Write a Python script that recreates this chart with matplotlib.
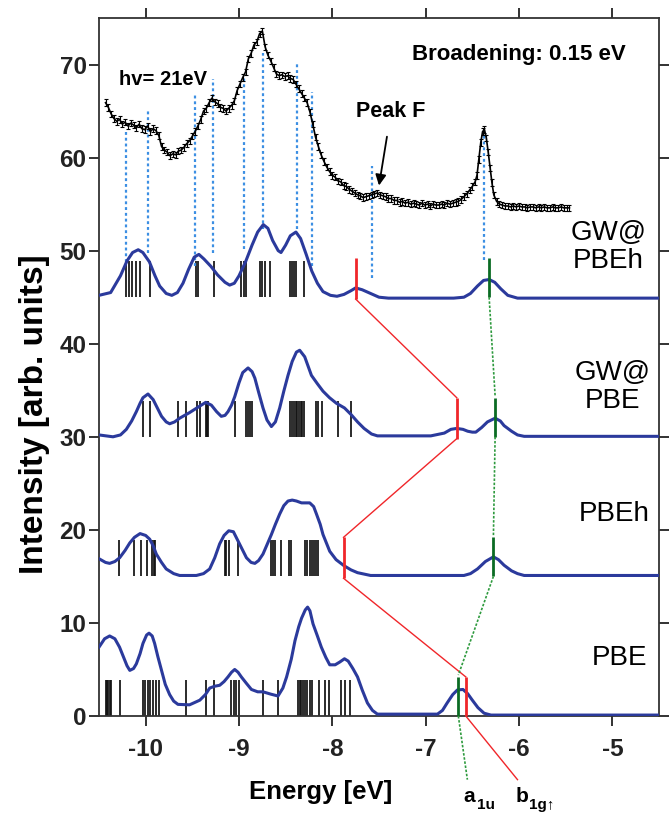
import matplotlib
matplotlib.use('Agg')
import matplotlib.pyplot as plt

plt.rcParams['font.family'] = ['Liberation Sans', 'DejaVu Sans']

# ---------------- experimental UPS spectrum (hv = 21 eV) ----------------
exp_x = [-10.43, -10.40, -10.37, -10.34, -10.31, -10.28, -10.25, -10.22, -10.19, -10.16,
         -10.13, -10.10, -10.07, -10.04, -10.01, -9.98, -9.95, -9.92, -9.89, -9.86,
         -9.83, -9.80, -9.77, -9.74, -9.71, -9.68, -9.65, -9.62, -9.59, -9.56,
         -9.53, -9.50, -9.47, -9.44, -9.41, -9.38, -9.35, -9.32, -9.29, -9.26,
         -9.23, -9.20, -9.17, -9.14, -9.11, -9.08, -9.05, -9.02, -8.99, -8.96,
         -8.93, -8.90, -8.87, -8.84, -8.81, -8.78, -8.75, -8.72, -8.69, -8.66,
         -8.63, -8.60, -8.57, -8.54, -8.51, -8.48, -8.45, -8.42, -8.39, -8.36,
         -8.33, -8.30, -8.27, -8.24, -8.21, -8.18, -8.15, -8.12, -8.09, -8.06,
         -8.03, -8.00, -7.97, -7.94, -7.91, -7.88, -7.85, -7.82, -7.79, -7.76,
         -7.73, -7.70, -7.67, -7.64, -7.61, -7.58, -7.55, -7.52, -7.49, -7.46,
         -7.43, -7.40, -7.37, -7.34, -7.31, -7.28, -7.25, -7.22, -7.19, -7.16,
         -7.13, -7.10, -7.07, -7.04, -7.01, -6.98, -6.95, -6.92, -6.89, -6.86,
         -6.83, -6.80, -6.77, -6.74, -6.71, -6.68, -6.65, -6.62, -6.59, -6.56,
         -6.53, -6.50, -6.47, -6.45, -6.43, -6.41, -6.39, -6.37, -6.35, -6.33,
         -6.31, -6.29, -6.27, -6.24, -6.21, -6.18, -6.15, -6.12, -6.09, -6.06,
         -6.03, -6.00, -5.97, -5.94, -5.91, -5.88, -5.85, -5.82, -5.79, -5.76,
         -5.73, -5.70, -5.67, -5.64, -5.61, -5.58, -5.55, -5.52, -5.49, -5.46]
exp_y = [65.9, 65.4, 64.7, 64.2, 63.9, 64.1, 63.6, 63.8, 63.4, 63.7,
         63.5, 63.2, 63.6, 63.1, 63.0, 63.4, 62.8, 63.1, 62.9, 62.4,
         61.2, 60.8, 60.6, 60.2, 60.4, 60.3, 60.7, 60.8, 61.1, 61.5,
         61.8, 62.3, 62.8, 63.4, 64.1, 65.0, 65.3, 65.9, 66.4, 66.0,
         65.8, 65.4, 65.3, 65.0, 65.3, 65.6, 66.1, 67.2, 67.9, 68.6,
         69.2, 70.6, 71.2, 72.1, 72.4, 73.3, 73.6, 71.9, 71.0, 70.4,
         69.7, 69.0, 68.8, 68.9, 68.7, 68.8, 68.5, 68.4, 67.9, 67.4,
         66.9, 66.4, 65.9, 64.9, 63.6, 62.2, 61.2, 60.3, 59.6, 59.0,
         58.5, 58.1, 57.9, 57.5, 57.4, 57.0, 56.9, 56.6, 56.4, 56.2,
         56.0, 55.9, 55.7, 55.8, 55.9, 56.0, 56.1, 56.2, 56.0, 55.9,
         55.8, 55.6, 55.6, 55.4, 55.4, 55.2, 55.3, 55.1, 55.2, 55.0,
         55.1, 55.0, 54.9, 55.1, 54.9, 55.0, 54.8, 55.0, 54.9, 54.9,
         55.0, 54.9, 55.1, 55.0, 55.1, 55.2, 55.3, 55.5, 55.8, 56.1,
         56.5, 56.9, 57.4, 58.1, 59.8, 61.6, 62.8, 63.0, 62.1, 60.6,
         58.9, 57.3, 56.0, 55.3, 55.0, 54.9, 54.8, 54.8, 54.7, 54.8,
         54.7, 54.8, 54.7, 54.7, 54.6, 54.7, 54.7, 54.6, 54.7, 54.6,
         54.7, 54.6, 54.6, 54.7, 54.6, 54.6, 54.7, 54.6, 54.6, 54.6]

# experimental peak markers (blue dotted)
peak_x = [-10.21, -9.98, -9.47, -9.28, -8.95, -8.74, -8.38, -8.22, -7.57, -6.37]
peak_top = [62.9, 65.1, 66.7, 68.4, 68.5, 71.2, 70.3, 67.0, 59.1, 62.8]
peak_bot = [48.8, 49.8, 48.4, 49.8, 50.2, 52.3, 52.3, 48.4, 47.1, 49.0]

# ---------------- broadened theoretical spectra ----------------
gwpbeh_x = [-10.50, -10.375, -10.27, -10.20, -10.14, -10.08, -10.03, -9.96, -9.90, -9.85,
            -9.78, -9.72, -9.66, -9.60, -9.54, -9.48, -9.43, -9.375, -9.30, -9.23,
            -9.15, -9.10, -9.05, -9.00, -8.93, -8.86, -8.80, -8.74, -8.69, -8.64,
            -8.58, -8.55, -8.50, -8.45, -8.39, -8.34, -8.28, -8.22, -8.16, -8.10,
            -8.02, -7.95, -7.875, -7.80, -7.75, -7.68, -7.59, -7.50, -7.40, -6.70,
            -6.59, -6.52, -6.445, -6.38, -6.32, -6.26, -6.195, -6.12, -6.016, -4.5]
gwpbeh_y = [45.2, 45.5, 47.3, 48.9, 49.8, 50.1, 49.8, 48.8, 47.3, 46.2,
            45.4, 45.2, 45.5, 46.5, 48.0, 49.3, 49.6, 49.1, 48.3, 47.4,
            46.6, 46.3, 46.5, 47.3, 48.8, 50.6, 52.0, 52.8, 52.4, 51.1,
            50.0, 49.8, 50.6, 51.6, 52.0, 51.3, 49.6, 47.8, 46.5, 45.6,
            45.2, 45.1, 45.3, 45.7, 46.0, 45.8, 45.4, 45.0, 44.9, 44.9,
            45.0, 45.4, 46.2, 46.8, 46.9, 46.6, 45.9, 45.2, 44.9, 44.9]

gwpbe_x = [-10.50, -10.35, -10.27, -10.207, -10.15, -10.10, -10.06, -10.029, -9.975, -9.92,
           -9.87, -9.83, -9.78, -9.743, -9.69, -9.636, -9.53, -9.42, -9.357, -9.296,
           -9.24, -9.19, -9.15, -9.118, -9.08, -9.046, -9.00, -8.96, -8.903, -8.86,
           -8.83, -8.79, -8.743, -8.70, -8.653, -8.61, -8.564, -8.52, -8.475, -8.43,
           -8.385, -8.35, -8.296, -8.26, -8.224, -8.16, -8.10, -8.03, -7.956, -7.87,
           -7.80, -7.73, -7.66, -7.58, -7.517, -6.945, -6.80, -6.73, -6.667, -6.60,
           -6.55, -6.50, -6.463, -6.40, -6.338, -6.256, -6.20, -6.16, -6.08, -6.016,
           -5.945, -4.5]
gwpbe_y = [30.2, 30.0, 30.2, 30.8, 31.7, 32.7, 33.6, 34.2, 34.6, 34.0,
           33.0, 32.2, 31.6, 31.4, 31.6, 32.0, 32.6, 33.3, 33.7, 33.4,
           32.7, 32.2, 32.3, 32.7, 33.4, 34.3, 35.8, 36.9, 37.4, 37.0,
           36.3, 34.8, 33.1, 31.8, 31.1, 31.6, 33.1, 34.9, 36.6, 38.1,
           39.1, 39.3, 38.6, 37.6, 36.6, 35.7, 34.9, 34.2, 33.6, 33.1,
           32.4, 31.6, 30.9, 30.3, 30.1, 30.1, 30.4, 30.8, 30.9, 30.8,
           30.6, 30.5, 30.5, 31.0, 31.6, 32.0, 31.7, 31.2, 30.6, 30.2,
           30.05, 30.05]

pbeh_x = [-10.50, -10.43, -10.386, -10.33, -10.279, -10.22, -10.17, -10.12, -10.06, -10.00,
          -9.957, -9.92, -9.886, -9.83, -9.78, -9.70, -9.636, -9.457, -9.38, -9.314,
          -9.26, -9.207, -9.16, -9.11, -9.06, -9.01, -8.96, -8.92, -8.87, -8.83,
          -8.79, -8.743, -8.70, -8.653, -8.61, -8.564, -8.52, -8.475, -8.43, -8.385,
          -8.33, -8.242, -8.20, -8.17, -8.13, -8.10, -8.06, -8.028, -7.96, -7.875,
          -7.80, -7.73, -7.59, -6.59, -6.52, -6.445, -6.36, -6.274, -6.22, -6.16,
          -6.08, -6.016, -5.945, -4.5]
pbeh_y = [16.9, 16.5, 16.4, 16.6, 17.0, 17.8, 18.6, 19.2, 19.6, 19.4,
          19.0, 18.3, 17.4, 16.5, 15.8, 15.3, 15.1, 15.1, 15.3, 15.8,
          17.0, 18.5, 19.4, 19.9, 19.8, 18.8, 17.8, 17.0, 16.5, 16.4,
          16.7, 17.4, 18.4, 19.5, 20.6, 21.7, 22.6, 23.1, 23.2, 23.1,
          22.9, 22.9, 22.5, 21.7, 20.6, 19.5, 18.5, 17.7, 16.8, 16.15,
          15.7, 15.4, 15.1, 15.1, 15.3, 15.8, 16.6, 17.1, 16.8, 16.2,
          15.6, 15.3, 15.1, 15.1]

pbe_x = [-10.50, -10.44, -10.386, -10.33, -10.28, -10.24, -10.20, -10.17, -10.13, -10.10,
         -10.06, -10.029, -9.99, -9.964, -9.93, -9.904, -9.87, -9.83, -9.79, -9.743,
         -9.70, -9.654, -9.53, -9.42, -9.36, -9.314, -9.26, -9.207, -9.16, -9.118,
         -9.08, -9.046, -9.01, -8.975, -8.92, -8.867, -8.80, -8.743, -8.66, -8.582,
         -8.53, -8.49, -8.44, -8.40, -8.36, -8.33, -8.29, -8.265, -8.24, -8.207,
         -8.16, -8.118, -8.07, -8.028, -7.97, -7.92, -7.87, -7.83, -7.78, -7.73,
         -7.68, -7.624, -7.57, -7.517, -6.874, -6.82, -6.77, -6.71, -6.66, -6.60,
         -6.55, -6.50, -6.44, -6.374, -6.30, -4.5]
pbe_y = [7.4, 8.3, 8.6, 8.3, 7.4, 6.4, 5.4, 4.9, 5.1, 5.6,
         6.7, 7.8, 8.7, 8.9, 8.6, 7.8, 6.4, 4.9, 3.4, 2.3,
         1.6, 1.25, 1.2, 1.7, 2.3, 3.0, 3.2, 3.3, 3.7, 4.2,
         4.7, 5.0, 4.7, 4.2, 3.5, 2.85, 2.6, 2.6, 2.35, 2.15,
         3.0, 4.2, 6.1, 8.1, 9.6, 10.5, 11.4, 11.7, 11.3, 9.9,
         8.6, 7.4, 6.3, 5.5, 5.5, 5.8, 6.15, 5.9, 5.1, 4.2,
         2.8, 1.4, 0.6, 0.2, 0.2, 0.6, 1.4, 2.3, 2.8, 2.85,
         2.4, 1.7, 0.9, 0.3, 0.1, 0.1]

# ---------------- eigenvalue sticks ----------------
gwpbeh_sticks = [-10.214, -10.179, -10.143, -10.10, -10.057, -9.957, -9.464, -9.436, -9.264,
                 -8.975, -8.95, -8.928, -8.778, -8.75, -8.717, -8.671, -8.45, -8.432, -8.41,
                 -8.385, -8.307]
gwpbe_sticks = [-10.029, -9.95, -9.654, -9.571, -9.45, -9.42, -9.357, -9.343, -9.328, -9.046,
                -8.921, -8.903, -8.878, -8.857, -8.45, -8.428, -8.41, -8.392, -8.378, -8.357,
                -8.335, -8.32, -8.307, -8.178, -8.153, -8.107, -7.94, -7.80]
pbeh_sticks = [-10.289, -10.125, -10.046, -9.986, -9.929, -9.914, -9.90, -9.153, -9.135, -9.11,
               -9.01, -8.653, -8.635, -8.617, -8.546, -8.464, -8.439, -8.296, -8.271, -8.242,
               -8.221, -8.20, -8.178, -8.153]
pbe_sticks = [-10.429, -10.415, -10.40, -10.386, -10.372, -10.271, -10.029, -10.004, -9.975,
              -9.95, -9.921, -9.886, -9.857, -9.571, -9.35, -9.271, -9.082, -9.057, -9.029,
              -9.0, -8.743, -8.582, -8.368, -8.35, -8.332, -8.314, -8.296, -8.271, -8.242,
              -8.214, -8.143, -8.082, -8.036, -7.91, -7.86, -7.81]

offsets = [45, 30, 15, 0]
stick_h = 3.9

# b1g (red) and a1u (green) states for GW@PBEh, GW@PBE, PBEh, PBE
b1g_x = [-7.75, -6.667, -7.88, -6.57]
a1u_x = [-6.32, -6.256, -6.274, -6.65]

labels = ['GW@\nPBEh', 'GW@\nPBE', 'PBEh', 'PBE']
label_pos = [(-5.04, 50.4), (-5.0, 35.4), (-4.98, 21.7), (-4.92, 6.2)]

# ---------------- figure ----------------
fig = plt.figure(figsize=(6.69, 8.15), dpi=100)
ax = fig.add_axes([99 / 669, 99 / 815, 560 / 669, 698 / 815])
ax.set_xlim(-10.5, -4.5)
ax.set_ylim(0, 75)

blue = '#2B3A9C'
red = '#F0262A'
green = '#0B6B24'

# sticks
for st, off in zip([gwpbeh_sticks, gwpbe_sticks, pbeh_sticks, pbe_sticks], offsets):
    ax.vlines(st, off, off + stick_h, colors='#111111', lw=1.25, zorder=2)

# broadened spectra
for xs, ys in [(gwpbeh_x, gwpbeh_y), (gwpbe_x, gwpbe_y), (pbeh_x, pbeh_y), (pbe_x, pbe_y)]:
    ax.plot(xs, ys, color=blue, lw=2.2, zorder=3, solid_joinstyle='round')

# red / green state sticks
for bx, gx, off in zip(b1g_x, a1u_x, offsets):
    ax.vlines(bx, off - 0.2, off + stick_h + 0.3, colors=red, lw=2.0, zorder=4)
    ax.vlines(gx, off, off + stick_h + 0.3, colors=green, lw=2.0, zorder=4)

# connectors
for i in range(3):
    ax.plot([b1g_x[i], b1g_x[i + 1]], [offsets[i] - 0.2, offsets[i + 1] + stick_h + 0.3],
            color=red, lw=1.0, zorder=4)
    ax.plot([a1u_x[i], a1u_x[i + 1]], [offsets[i], offsets[i + 1] + stick_h + 0.5],
            color='#2E9A3E', lw=1.2, ls=(0, (1.5, 1.0)), zorder=4)
ax.plot([b1g_x[3], -6.016], [0, -6.84], color=red, lw=1.0, clip_on=False, zorder=4)
ax.plot([a1u_x[3], -6.553], [0, -6.84], color='#2E9A3E', lw=1.2, ls=(0, (1.5, 1.0)),
        clip_on=False, zorder=4)

# experimental markers
ax.vlines(peak_x, peak_bot, peak_top, colors='#3C8FE3', lw=1.6,
          linestyles=(0, (1.3, 1.3)), zorder=2)

# experimental spectrum
ax.errorbar(exp_x, exp_y, yerr=0.35, fmt='-', color='black', lw=1.2,
             elinewidth=0.8, capsize=1.3, capthick=0.8, zorder=5)

# texts
ax.text(-9.81, 68.4, 'hv= 21eV', fontsize=14.5, fontweight='bold', ha='center', va='center')
ax.text(-6.0, 71.1, 'Broadening: 0.15 eV', fontsize=16, fontweight='bold',
        ha='center', va='center')
ax.annotate('Peak F', xy=(-7.50, 57.0), xytext=(-7.37, 65.0), fontsize=15.5,
            fontweight='bold', ha='center', va='center',
            arrowprops=dict(arrowstyle='-|>', color='black', lw=1.3, mutation_scale=16,
                            shrinkA=9, shrinkB=0))
for lab, (lx, ly) in zip(labels, label_pos):
    ax.text(lx, ly, lab, fontsize=20, ha='center', va='center', multialignment='center',
            linespacing=1.1)

# state labels below the axis
ax.text(-6.592, -9.2, 'a', fontsize=15, fontweight='bold', ha='left', va='baseline', clip_on=False)
ax.text(-6.45, -9.95, '1u', fontsize=11, fontweight='bold', ha='left', va='baseline', clip_on=False)
ax.text(-6.034, -9.2, 'b', fontsize=15, fontweight='bold', ha='left', va='baseline', clip_on=False)
ax.text(-5.895, -9.95, '1g\u2191', fontsize=11, fontweight='bold', ha='left', va='baseline',
        clip_on=False, family=['Liberation Sans', 'DejaVu Sans'])

# axes styling
ax.set_xticks([-10, -9, -8, -7, -6, -5])
ax.set_xticklabels(['-10', '-9', '-8', '-7', '-6', '-5'])
ax.set_yticks([0, 10, 20, 30, 40, 50, 60, 70])
ax.tick_params(direction='out', length=7, width=1.3, labelsize=17.5, top=True, right=True,
               colors='#222222')
ax.tick_params(axis='x', pad=9)
ax.tick_params(axis='y', pad=2)
for lbl in ax.get_xticklabels() + ax.get_yticklabels():
    lbl.set_fontweight('bold')
for sp in ax.spines.values():
    sp.set_linewidth(1.3)
    sp.set_color('#333333')

ax.set_xlabel('Energy [eV]', fontsize=18.5, fontweight='bold')
ax.xaxis.set_label_coords(0.395, -0.092)
ax.set_ylabel('Intensity [arb. units]', fontsize=24, fontweight='bold')
ax.yaxis.set_label_coords(-0.088, 0.432)

fig.savefig('out.png', dpi=100)
